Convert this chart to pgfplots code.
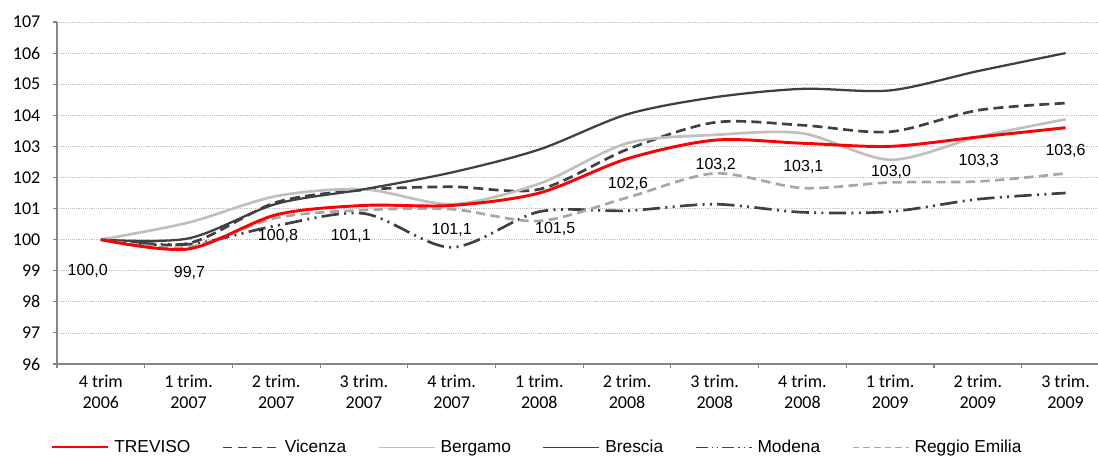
\documentclass[border=0pt]{standalone}
\usepackage{fontspec}
\setmainfont{Liberation Sans}
\newfontfamily\calibri{Carlito}
\usepackage{pgfplots}
\pgfplotsset{compat=1.18}
\definecolor{dk}{HTML}{404040}
\definecolor{lg}{HTML}{BFBFBF}
\definecolor{mg}{HTML}{A6A6A6}
\definecolor{trv}{HTML}{FF0000}
\definecolor{axgray}{HTML}{868686}
\definecolor{gridgray}{HTML}{BFBFBF}
\begin{document}
\begin{tikzpicture}
\begin{axis}[name=ax, at={(0,0)}, anchor=south west,
  scale only axis, width=780.75pt, height=256.5pt,
  xmin=-0.5, xmax=11.37, ymin=96, ymax=107,
  axis lines=left, axis line style={-, color=axgray, line width=1.1pt},
  ytick={96,...,107},
  ymajorgrids, grid style={densely dotted, color=gridgray, line width=0.5pt},
  xtick={-0.5,0.5,...,10.5}, xticklabels={},
  extra x ticks={0,...,11},
  extra x tick labels={{4 trim\\2006},{1 trim.\\2007},{2 trim.\\2007},{3 trim.\\2007},{4 trim.\\2007},{1 trim.\\2008},{2 trim.\\2008},{3 trim.\\2008},{4 trim.\\2008},{1 trim.\\2009},{2 trim.\\2009},{3 trim.\\2009}},
  extra x tick style={major tick length=0pt, xmajorgrids=false,
    xticklabel style={font=\calibri\fontsize{13.5}{15.75}\selectfont, align=center}},
  xticklabel shift=5pt,
  tick align=outside, major tick length=3pt,
  tick style={color=axgray, line width=0.8pt},
  /pgf/number format/assume math mode=true,
  y tick label style={font=\calibri\fontsize{13.5}{16}\selectfont, xshift=-6pt},
  legend style={at={(0.462,-0.243)}, anchor=center, draw=none, fill=none,
    legend columns=6, font=\fontsize{13}{15}\selectfont,
    /tikz/every even column/.append style={column sep=22pt},
    /tikz/every odd column/.append style={column sep=2pt}},
  legend image code/.code={\draw[#1] (0pt,0pt) -- (42pt,0pt);},
]
\addlegendimage{draw=trv, line width=1pt}
\addlegendentry{TREVISO}
\addlegendimage{draw=dk, line width=0.8pt, dash pattern=on 7pt off 4pt}
\addlegendentry{Vicenza}
\addlegendimage{draw=lg, line width=0.8pt}
\addlegendentry{Bergamo}
\addlegendimage{draw=dk, line width=0.8pt}
\addlegendentry{Brescia}
\addlegendimage{draw=dk, line width=0.8pt, dash pattern=on 9pt off 3pt on 1pt off 3pt on 1pt off 3pt}
\addlegendentry{Modena}
\addlegendimage{draw=mg, line width=0.8pt, dash pattern=on 5pt off 3pt}
\addlegendentry{Reggio Emilia}
\addplot[color=dk, line width=2pt, smooth, dash pattern=on 7.5pt off 4pt, forget plot] coordinates {(0,100.0) (1,99.88) (2,101.2) (3,101.6) (4,101.7) (5,101.62) (6,102.9) (7,103.77) (8,103.68) (9,103.47) (10,104.16) (11,104.39)};
\addplot[color=lg, line width=2pt, smooth, forget plot] coordinates {(0,100.0) (1,100.55) (2,101.4) (3,101.62) (4,101.14) (5,101.8) (6,103.1) (7,103.37) (8,103.42) (9,102.57) (10,103.3) (11,103.87)};
\addplot[color=dk, line width=1.7pt, smooth, forget plot] coordinates {(0,100.0) (1,100.04) (2,101.15) (3,101.62) (4,102.16) (5,102.9) (6,104.03) (7,104.58) (8,104.85) (9,104.8) (10,105.42) (11,106.0)};
\addplot[color=dk, line width=2pt, smooth, dash pattern=on 13pt off 4pt on 1.5pt off 4pt on 1.5pt off 4pt, forget plot] coordinates {(0,100.0) (1,99.85) (2,100.45) (3,100.84) (4,99.75) (5,100.9) (6,100.93) (7,101.14) (8,100.88) (9,100.9) (10,101.3) (11,101.5)};
\addplot[color=mg, line width=2pt, smooth, dash pattern=on 7pt off 4pt, forget plot] coordinates {(0,100.0) (1,99.76) (2,100.7) (3,100.95) (4,100.98) (5,100.6) (6,101.35) (7,102.13) (8,101.66) (9,101.84) (10,101.87) (11,102.13)};
\addplot[color=trv, line width=2.2pt, smooth, forget plot] coordinates {(0,100.0) (1,99.7) (2,100.8) (3,101.1) (4,101.1) (5,101.5) (6,102.6) (7,103.2) (8,103.1) (9,103.0) (10,103.3) (11,103.6)};
\begin{scope}[every node/.style={font=\fontsize{12}{14}\selectfont, inner sep=0pt}]
\node at (axis cs:-0.15,99.0) {100,0};
\node at (axis cs:1.01,98.92) {99,7};
\node at (axis cs:2.02,100.13) {100,8};
\node at (axis cs:2.85,100.13) {101,1};
\node at (axis cs:4.0,100.32) {101,1};
\node at (axis cs:5.18,100.36) {101,5};
\node at (axis cs:6.01,101.8) {102,6};
\node at (axis cs:7.01,102.41) {103,2};
\node at (axis cs:8.01,102.33) {103,1};
\node at (axis cs:9.01,102.17) {103,0};
\node at (axis cs:10.01,102.52) {103,3};
\node at (axis cs:11.0,102.84) {103,6};
\end{scope}
\end{axis}
\pgfresetboundingbox
\path[use as bounding box] ([xshift=-42.75pt,yshift=-69.75pt]ax.south west) rectangle ([yshift=16.5pt]ax.north east);
\end{tikzpicture}
\end{document}
